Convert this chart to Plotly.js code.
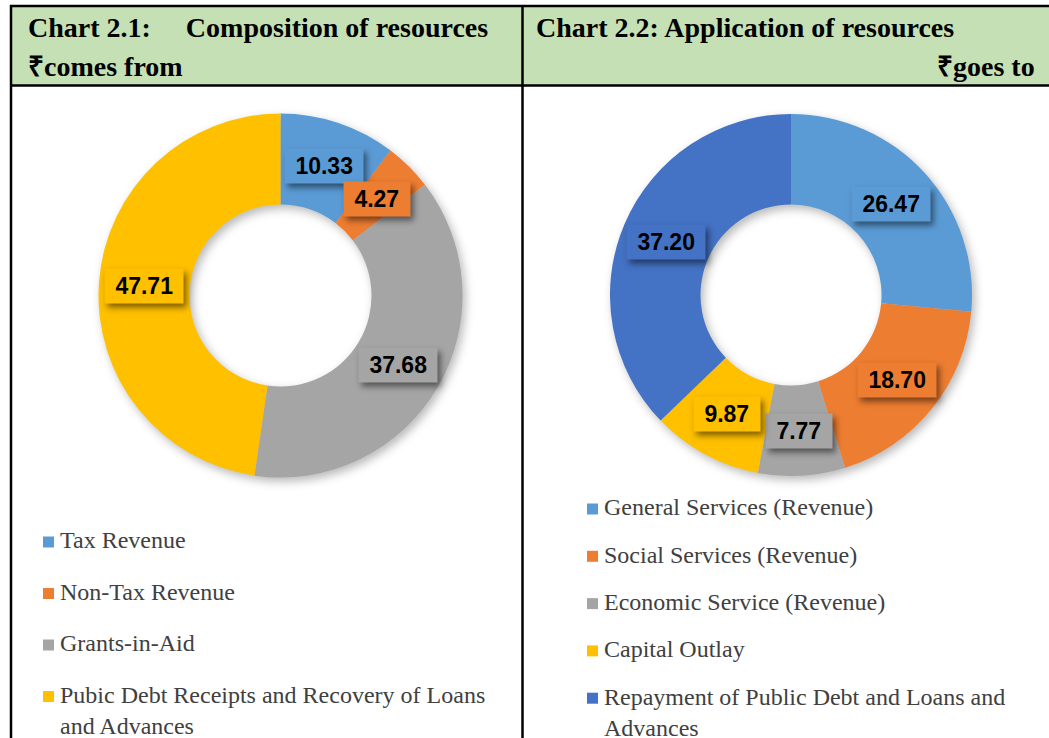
<!DOCTYPE html>
<html><head><meta charset="utf-8">
<script src="https://cdn.plot.ly/plotly-3.0.1.min.js"></script>
<style>
html,body{margin:0;padding:0;background:#fff;}
#chart{width:1049px;height:738px;}
.pielayer g.trace{filter:drop-shadow(3px 4px 5px rgba(0,0,0,0.28));}
.annotation rect.bg{filter:drop-shadow(3px 4px 3px rgba(0,0,0,0.5));}
</style></head><body><div id="chart"></div>
<script>
// ---- data ----
const srcLabels = ['Tax Revenue', 'Non-Tax Revenue', 'Grants-in-Aid', 'Pubic Debt Receipts and Recovery of Loans and Advances'];
const srcValues = [10.33, 4.27, 37.68, 47.71];
const srcColors = ['#5B9BD5', '#ED7D31', '#A5A5A5', '#FFC000'];

const appLabels = ['General Services (Revenue)', 'Social Services (Revenue)', 'Economic Service (Revenue)', 'Capital Outlay', 'Repayment of Public Debt and Loans and Advances'];
const appValues = [26.47, 18.70, 7.77, 9.87, 37.20];
const appColors = ['#5B9BD5', '#ED7D31', '#A5A5A5', '#FFC000', '#4472C4'];

const title1Lines = ['Chart 2.1:\u00a0\u00a0\u00a0\u00a0 Composition of resources', '₹comes from'];
const title2Lines = ['Chart 2.2: Application of resources', '₹goes to'];

// ---- layout helpers ----
const W = 1049, H = 738;
const px = x => x / W;
const py = y => 1 - y / H;
const HOLE = 0.5;

const pie1 = {cx: 280.5, cy: 295.5, R: 182};
const pie2 = {cx: 791, cy: 295, R: 181};
function domainOf(p) {
  return {x: [px(p.cx - p.R), px(p.cx + p.R)], y: [py(p.cy + p.R), py(p.cy - p.R)]};
}

const traces = [
  {type: 'pie', labels: srcLabels, values: srcValues, marker: {colors: srcColors, line: {width: 0}},
   hole: HOLE, sort: false, direction: 'clockwise', rotation: 0, textinfo: 'none',
   domain: domainOf(pie1), showlegend: false, hoverinfo: 'label+value'},
  {type: 'pie', labels: appLabels, values: appValues, marker: {colors: appColors, line: {width: 0}},
   hole: HOLE, sort: false, direction: 'clockwise', rotation: 0, textinfo: 'none',
   domain: domainOf(pie2), showlegend: false, hoverinfo: 'label+value'}
];

const annotations = [];
const shapes = [];

function dataLabels(values, colors, p) {
  const total = values.reduce((a, b) => a + b, 0);
  let cum = 0;
  const r = p.R * (1 + HOLE) / 2;
  values.forEach((v, i) => {
    const mid = (cum + v / 2) / total;
    cum += v;
    const th = 2 * Math.PI * mid;
    const x = p.cx + r * Math.sin(th);
    const y = p.cy - r * Math.cos(th);
    annotations.push({
      x: px(x), y: py(y), xref: 'paper', yref: 'paper', showarrow: false,
      xanchor: 'center', yanchor: 'middle',
      text: '\u00a0' + v.toFixed(2) + '\u00a0',
      font: {family: 'Liberation Sans, Arial, sans-serif', size: 23, color: '#000', weight: 700},
      bgcolor: colors[i], borderpad: 4
    });
  });
}
dataLabels(srcValues, srcColors, pie1);
dataLabels(appValues, appColors, pie2);

function wrap(s, n) {
  const words = s.split(' ');
  const lines = [];
  let cur = '';
  words.forEach(w => {
    if (cur && (cur + ' ' + w).length > n) { lines.push(cur); cur = w; }
    else cur = cur ? cur + ' ' + w : w;
  });
  if (cur) lines.push(cur);
  return lines.join('<br>');
}

const LEG_FONT = 24;
function legend(labels, colors, sqX, textX, y0, step, n) {
  labels.forEach((lab, i) => {
    const yc = y0 + i * step;
    shapes.push({type: 'rect', xref: 'paper', yref: 'paper',
      x0: px(sqX), x1: px(sqX + 11), y0: py(yc + 5.5), y1: py(yc - 5.5),
      fillcolor: colors[i], line: {width: 0}});
    annotations.push({
      x: px(textX), y: py(yc - 0.65 * LEG_FONT - 1), xref: 'paper', yref: 'paper', showarrow: false,
      xanchor: 'left', yanchor: 'top', align: 'left', text: wrap(lab, n),
      font: {family: 'Liberation Serif, Times New Roman, serif', size: LEG_FONT, color: '#404040'}
    });
  });
}
legend(srcLabels, srcColors, 43, 58, 542, 51.5, 42);
legend(appLabels, appColors, 587, 602, 509, 47.3, 39);

// headers
const HF = {family: 'Liberation Serif, Times New Roman, serif', size: 28, color: '#000', weight: 700};
function header(text, x, yBase, anchor) {
  annotations.push({x: px(x), y: py(yBase - 9), xref: 'paper', yref: 'paper', showarrow: false,
    xanchor: anchor, yanchor: 'middle', text: text, font: HF, borderpad: 0});
}
header(title1Lines[0], 27, 37, 'left');
header(title1Lines[1], 27, 75, 'left');
header(title2Lines[0], 535, 37, 'left');
header(title2Lines[1], 1036, 75, 'right');

// table
shapes.unshift({type: 'rect', xref: 'paper', yref: 'paper', x0: px(11), x1: px(1049), y0: py(85), y1: py(7),
  fillcolor: '#C5E0B4', line: {width: 0}, layer: 'below'});
const LINE = {color: '#000', width: 2.5};
shapes.push({type: 'line', xref: 'paper', yref: 'paper', x0: px(10), x1: px(1049), y0: py(6), y1: py(6), line: LINE});
shapes.push({type: 'line', xref: 'paper', yref: 'paper', x0: px(10), x1: px(1049), y0: py(85.5), y1: py(85.5), line: LINE});
shapes.push({type: 'line', xref: 'paper', yref: 'paper', x0: px(11), x1: px(11), y0: py(5), y1: py(738), line: LINE});
shapes.push({type: 'line', xref: 'paper', yref: 'paper', x0: px(522.5), x1: px(522.5), y0: py(5), y1: py(738), line: LINE});

const layout = {
  width: W, height: H, margin: {l: 0, r: 0, t: 0, b: 0},
  paper_bgcolor: '#fff', plot_bgcolor: '#fff', showlegend: false,
  annotations: annotations, shapes: shapes
};
Plotly.newPlot('chart', traces, layout, {displayModeBar: false, staticPlot: true});
</script></body></html>
